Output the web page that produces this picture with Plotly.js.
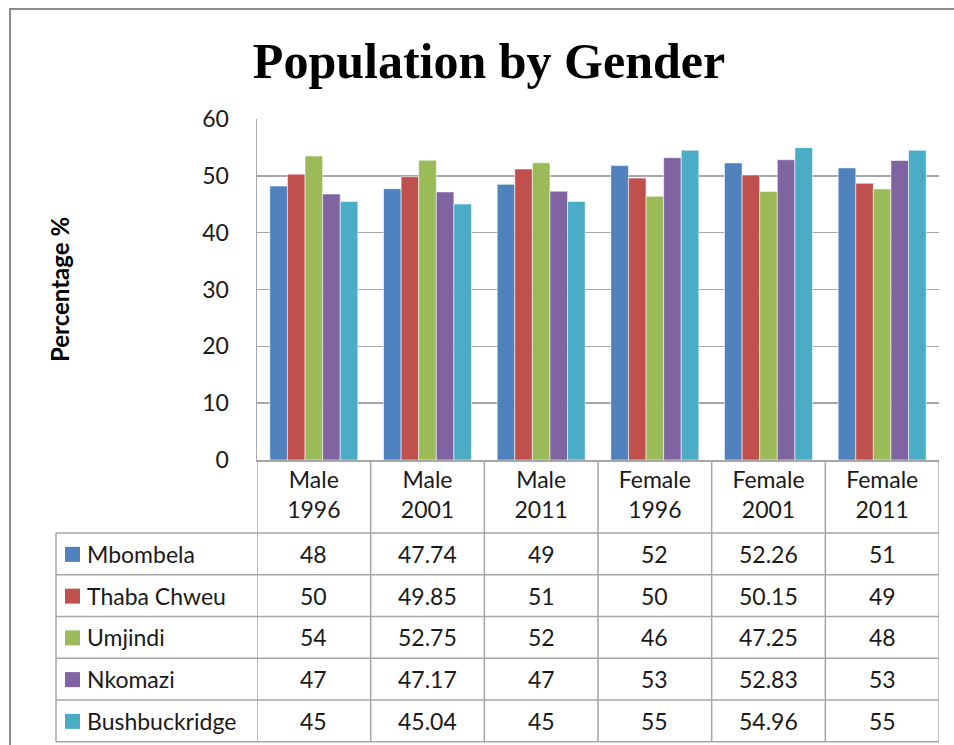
<!DOCTYPE html>
<html>
<head>
<meta charset="utf-8">
<script src="https://cdn.plot.ly/plotly-3.0.1.min.js"></script>
<style>
  body { margin: 0; background: #fff; }
  #chartDiv { width: 954px; height: 745px; }
</style>
</head>
<body>
<div id="chartDiv"></div>
<script>
// categories along the x axis
var categories = ['Male 1996', 'Male 2001', 'Male 2011', 'Female 1996', 'Female 2001', 'Female 2011'];
var categoryLabels = ['Male<br>1996', 'Male<br>2001', 'Male<br>2011', 'Female<br>1996', 'Female<br>2001', 'Female<br>2011'];
var municipalities = ['Mbombela', 'Thaba Chweu', 'Umjindi', 'Nkomazi', 'Bushbuckridge'];

// bar heights
var mbombela = [48.2, 47.74, 48.5, 51.8, 52.26, 51.4];
var thabaChweu = [50.3, 49.85, 51.2, 49.6, 50.15, 48.7];
var umjindi = [53.5, 52.75, 52.3, 46.4, 47.25, 47.7];
var nkomazi = [46.8, 47.17, 47.3, 53.2, 52.83, 52.7];
var bushbuckridge = [45.5, 45.04, 45.5, 54.5, 54.96, 54.5];

// numbers printed in the data table under the chart
var mbombelaTable = ['48', '47.74', '49', '52', '52.26', '51'];
var thabaChweuTable = ['50', '49.85', '51', '50', '50.15', '49'];
var umjindiTable = ['54', '52.75', '52', '46', '47.25', '48'];
var nkomaziTable = ['47', '47.17', '47', '53', '52.83', '53'];
var bushbuckridgeTable = ['45', '45.04', '45', '55', '54.96', '55'];

var seriesValues = [mbombela, thabaChweu, umjindi, nkomazi, bushbuckridge];
var tableValues = [mbombelaTable, thabaChweuTable, umjindiTable, nkomaziTable, bushbuckridgeTable];
var colors = ['#4F81BD', '#C0504D', '#9BBB59', '#8064A2', '#4BACC6'];

/****** page geometry in pixels (Excel style layout) ******/
var W = 954, H = 745;
var plotLeft = 257, plotRight = 939, plotTop = 119, plotBottom = 460;
var tableLeft = 56, headerBottom = 533, rowHeight = 41.75;
var gridColor = '#a6a6a6';
var textColor = '#1a1a1a';
var bodyFont = 'Lato, "Open Sans", sans-serif';

// pixel -> paper conversion
function px2x(px) { return (px - plotLeft) / (plotRight - plotLeft); }
function px2y(py) { return (plotBottom - py) / (plotBottom - plotTop); }

var data = [];
for (var s = 0; s < municipalities.length; s++) {
    data.push({
        x: categories,
        y: seriesValues[s],
        type: 'bar',
        name: municipalities[s],
        marker: { color: colors[s], line: { color: 'rgba(255,255,255,0.55)', width: 1 } },
        hoverinfo: 'none'
    });
}

var shapes = [];
var annotations = [];

// outer chart frame
shapes.push({
    type: 'rect', xref: 'paper', yref: 'paper',
    x0: px2x(10), x1: px2x(W + 10), y0: px2y(H + 10), y1: px2y(9),
    line: { color: '#8c8c8c', width: 2 }, layer: 'below'
});

// table: horizontal lines
var nRows = municipalities.length;
for (var r = 0; r <= nRows; r++) {
    var yy = px2y(headerBottom + r * rowHeight);
    shapes.push({
        type: 'line', xref: 'paper', yref: 'paper',
        x0: px2x(tableLeft), x1: 1, y0: yy, y1: yy,
        line: { color: gridColor, width: 1.5 }
    });
}
// table: left edge of the legend column
shapes.push({
    type: 'line', xref: 'paper', yref: 'paper',
    x0: px2x(tableLeft), x1: px2x(tableLeft),
    y0: px2y(headerBottom), y1: px2y(headerBottom + nRows * rowHeight),
    line: { color: gridColor, width: 1.5 }
});
// table: category dividers, running from the axis down
for (var c = 0; c <= categories.length; c++) {
    shapes.push({
        type: 'line', xref: 'x', yref: 'paper',
        x0: c - 0.5, x1: c - 0.5,
        y0: 0, y1: px2y(headerBottom + nRows * rowHeight),
        line: { color: gridColor, width: 1.5 }
    });
}

// legend keys, names and cell values
for (var r2 = 0; r2 < nRows; r2++) {
    var cy = headerBottom + (r2 + 0.5) * rowHeight;
    shapes.push({
        type: 'rect', xref: 'paper', yref: 'paper',
        x0: px2x(65), x1: px2x(80), y0: px2y(cy + 8), y1: px2y(cy - 7),
        fillcolor: colors[r2], line: { width: 0 }
    });
    annotations.push({
        xref: 'paper', yref: 'paper', x: px2x(85), y: px2y(cy),
        xanchor: 'left', yanchor: 'middle', showarrow: false,
        text: municipalities[r2],
        font: { family: bodyFont, size: 23, color: textColor }
    });
    for (var c2 = 0; c2 < categories.length; c2++) {
        annotations.push({
            xref: 'x', yref: 'paper', x: categories[c2], y: px2y(cy),
            xanchor: 'center', yanchor: 'middle', showarrow: false,
            text: tableValues[r2][c2],
            font: { family: bodyFont, size: 23, color: textColor }
        });
    }
}

var layout = {
    width: W,
    height: H,
    paper_bgcolor: '#ffffff',
    plot_bgcolor: '#ffffff',
    margin: { l: plotLeft, r: W - plotRight, t: plotTop, b: H - plotBottom },
    showlegend: false,
    barmode: 'group',
    bargap: 0.226,
    bargroupgap: 0,
    title: {
        text: '<b>Population by Gender</b>',
        font: { family: '"Liberation Serif", "DejaVu Serif", serif', size: 50, color: '#000' },
        xref: 'container', x: 489 / W,
        yref: 'container', y: 1 - 60 / H, yanchor: 'middle'
    },
    xaxis: {
        type: 'category',
        range: [-0.5, categories.length - 0.5],
        tickvals: categories,
        ticktext: categoryLabels,
        tickfont: { family: bodyFont, size: 23, color: textColor },
        ticks: '',
        ticklabelstandoff: -1,
        showgrid: false,
        zeroline: false,
        showline: true,
        linecolor: gridColor,
        linewidth: 1.5
    },
    yaxis: {
        range: [0, 60],
        dtick: 10,
        tickfont: { family: bodyFont, size: 23, color: textColor },
        ticks: '',
        ticklabelstandoff: 22,
        showgrid: true,
        gridcolor: gridColor,
        gridwidth: 1.5,
        zeroline: false,
        showline: true,
        linecolor: gridColor,
        linewidth: 1.5,
        title: {
            text: '<b>Percentage %</b>',
            font: { family: bodyFont, size: 24, color: '#000' },
            standoff: 126
        }
    },
    shapes: shapes,
    annotations: annotations
};

Plotly.newPlot('chartDiv', data, layout, { displayModeBar: false, staticPlot: true });
</script>
</body>
</html>
